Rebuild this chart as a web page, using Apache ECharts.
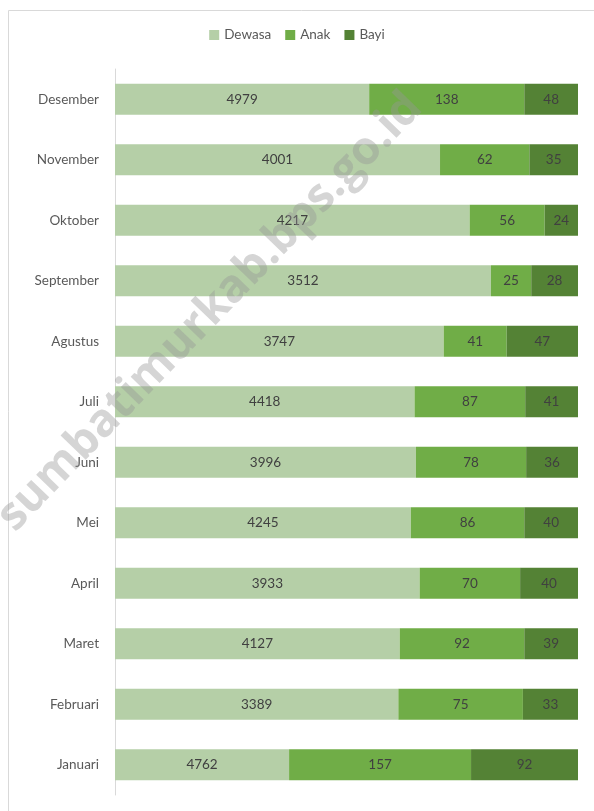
<!DOCTYPE html>
<html>
<head>
<meta charset="utf-8">
<script src="https://cdn.jsdelivr.net/npm/echarts@6/dist/echarts.min.js"></script>
<style>
  html, body { margin: 0; padding: 0; background: #fff; }
  #chart { width: 594px; height: 811px; }
</style>
</head>
<body>
<div id="chart"></div>
<script>
    // bulan, dari bawah ke atas
    var months = ['Januari', 'Februari', 'Maret', 'April', 'Mei', 'Juni', 'Juli', 'Agustus', 'September', 'Oktober', 'November', 'Desember'];

    // nilai yang tertulis di label
    var dewasa = [4762, 3389, 4127, 3933, 4245, 3996, 4418, 3747, 3512, 4217, 4001, 4979];
    var anak = [157, 75, 92, 70, 86, 78, 87, 41, 25, 56, 62, 138];
    var bayi = [92, 33, 39, 40, 40, 36, 41, 47, 28, 24, 35, 48];

    // panjang segmen batang (% dari panjang batang)
    var dewasaShare = [37.6, 61.2, 61.5, 65.8, 63.9, 65.0, 64.7, 71.0, 81.2, 76.6, 70.2, 54.9];
    var anakShare = [39.3, 26.9, 26.9, 21.7, 24.5, 23.8, 23.9, 13.6, 8.7, 16.2, 19.3, 33.5];
    var bayiShare = [23.1, 11.9, 11.6, 12.5, 11.6, 11.2, 11.4, 15.4, 10.1, 7.2, 10.5, 11.6];

    var fontFamily = 'Lato, "Open Sans", sans-serif';

    function makeSeries(name, shares, values, color) {
        return {
            name: name,
            type: 'bar',
            stack: 'total',
            barCategoryGap: '49%',
            itemStyle: { color: color },
            label: {
                show: true,
                position: 'inside',
                color: '#404040',
                fontSize: 13.5,
                fontFamily: fontFamily,
                formatter: function (p) { return values[p.dataIndex]; }
            },
            data: shares
        };
    }

    var myChart = echarts.init(document.getElementById('chart'));

    var option = {
        animation: false,
        legend: {
            top: 23,
            left: 'center',
            itemWidth: 10,
            itemHeight: 10,
            itemGap: 14,
            icon: 'rect',
            textStyle: { color: '#595959', fontSize: 13.5, fontFamily: fontFamily },
            data: ['Dewasa', 'Anak', 'Bayi']
        },
        grid: {
            left: 115,
            right: 16,
            top: 69,
            bottom: 16
        },
        xAxis: {
            type: 'value',
            min: 0,
            max: 100,
            show: false
        },
        yAxis: {
            type: 'category',
            data: months,
            axisLine: { show: true, lineStyle: { color: '#d9d9d9', width: 1 } },
            axisTick: { show: false },
            axisLabel: { color: '#595959', fontSize: 13.5, fontFamily: fontFamily, margin: 16 }
        },
        graphic: [
            {
                type: 'rect',
                shape: { x: 8.5, y: 10.5, width: 620, height: 840 },
                style: { fill: 'none', stroke: '#d9d9d9', lineWidth: 1 },
                z: 0
            },
            {
                type: 'text',
                x: 210,
                y: 312,
                rotation: 46 * Math.PI / 180,
                z: 100,
                style: {
                    text: 'sumbatimurkab.bps.go.id',
                    fill: 'rgba(150,150,150,0.4)',
                    font: 'bold 46px "Open Sans", sans-serif',
                    align: 'center',
                    verticalAlign: 'middle'
                }
            }
        ],
        series: [
            makeSeries('Dewasa', dewasaShare, dewasa, '#b5cfa7'),
            makeSeries('Anak', anakShare, anak, '#70ad47'),
            makeSeries('Bayi', bayiShare, bayi, '#548235')
        ]
    };

    myChart.setOption(option);
</script>
</body>
</html>
